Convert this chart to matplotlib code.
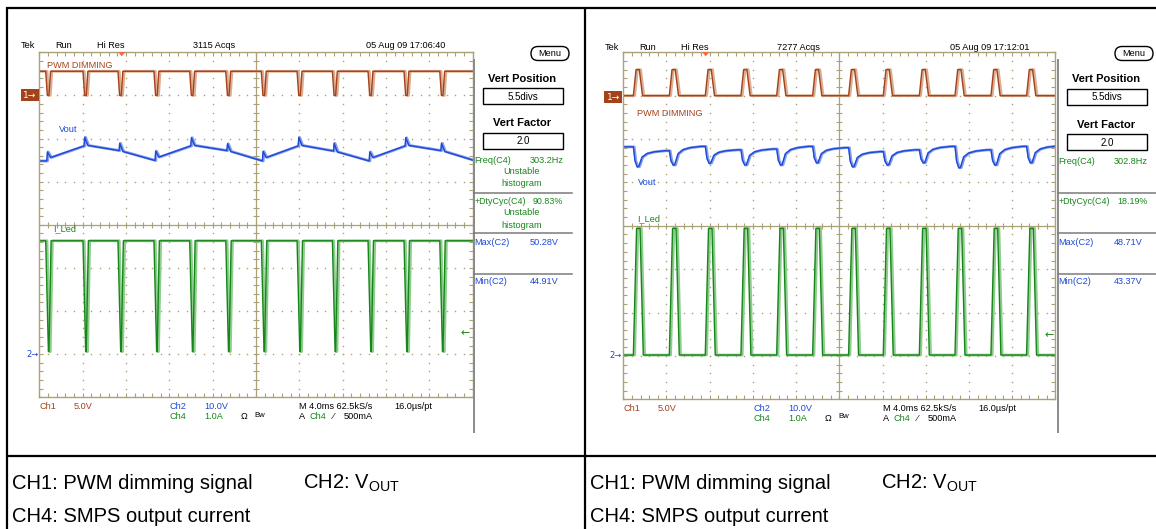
import numpy as np
import matplotlib
matplotlib.use('Agg')
import matplotlib.pyplot as plt
from matplotlib.patches import Rectangle, FancyBboxPatch, Polygon

plt.rcParams['mathtext.fontset'] = 'custom'
plt.rcParams['mathtext.rm'] = 'Liberation Sans'

W, H = 1156, 529
SANS = ['Liberation Sans', 'DejaVu Sans']
GRID = '#aaa276'
BROWN, BROWN_L = '#a3421b', '#dcae92'
BLUE, BLUE_L = '#1d48d8', '#86a0ea'
GREEN, GREEN_L = '#17861a', '#8fcd8f'

# volts (or amps) per division and ground offset in divisions
CH = {'ch1': (5.0, 7.0), 'ch2': (10.0, 1.0), 'ch4': (1.0, 1.0)}

# --- capture 1: 17:06:40, 4 ms/div, time in ms ---
pwm1_fall = [0.59, 4.03, 7.26, 10.58, 13.88, 17.21, 20.49, 23.79, 27.05, 30.34, 33.66, 36.96]
pwm1_high = 2.8
iled1_high, iled1_low = 2.63, 0.06
vout1_start, vout1_end = 44.8, 45.0
vout1_level = [44.8, 48.3, 47.2, 44.9, 48.3, 47.2, 44.8, 48.3, 47.1, 44.8, 48.3, 47.2]
vout1_peak = [46.9, 50.3, 48.9, 47.1, 50.2, 48.8, 47.0, 50.28, 48.9, 46.9, 50.2, 48.9]
vout1_after = [45.6, 48.4, 47.0, 45.7, 48.4, 47.0, 45.6, 48.4, 46.9, 45.6, 48.4, 47.0]

# --- capture 2: 17:12:01 ---
pwm2_rise = [0.93, 4.26, 7.59, 10.89, 14.20, 17.53, 20.86, 24.07, 27.41, 30.71, 34.04, 37.34]
pwm2_high = 3.0
iled2_high, iled2_low = 2.94, 0.02
vout2_start, vout2_end = 48.2, 48.4
vout2_plateau = [48.2, 47.3, 48.3, 47.5, 47.7, 48.3, 48.0, 47.1, 47.5, 48.3, 47.5, 48.3]
vout2_bottom = [43.6, 44.0, 44.4, 44.0, 44.0, 44.5, 43.6, 44.0, 44.5, 43.37, 44.0, 44.5]
# output recovery after each drop: (ms after edge, fraction recovered)
recovery = [(0.8, 0.6), (1.25, 0.82), (1.9, 0.93), (2.9, 1.0)]

readouts = [
    dict(acqs='3115 Acqs', date='05 Aug 09 17:06:40', freq='303.2Hz', duty='90.83%',
         vmax='50.28V', vmin='44.91V', unstable=True),
    dict(acqs='7277 Acqs', date='05 Aug 09 17:12:01', freq='302.8Hz', duty='18.19%',
         vmax='48.71V', vmin='43.37V', unstable=False),
]


def pwm_dips(falls, high, end=40.0):
    t, v = [0.0], [high]
    for f in falls:
        t += [f, f + 0.15, f + 0.30, f + 0.45]
        v += [high, 0.0, 0.0, high]
    t.append(end); v.append(high)
    return t, v


def iled_dips(falls, high, low, end=40.0):
    t, v = [0.0], [high]
    for f in falls:
        t += [f, f + 0.25, f + 0.30, f + 0.50]
        v += [high, low, low, high]
    t.append(end); v.append(high)
    return t, v


def vout_spikes(falls, level, peak, after, start, stop, end=40.0):
    t, v = [0.0], [start]
    for f, lv, pk, af in zip(falls, level, peak, after):
        t += [f + 0.1, f + 0.16, f + 0.45]
        v += [lv, pk, af]
    t.append(end); v.append(stop)
    return t, v


def pwm_pulses(rises, high, end=40.0):
    t, v = [0.0], [0.0]
    for r in rises:
        t += [r, r + 0.25, r + 0.55, r + 0.85]
        v += [0.0, high, high, 0.0]
    t.append(end); v.append(0.0)
    return t, v


def iled_pulses(rises, high, low, end=40.0):
    t, v = [0.0], [low]
    for r in rises:
        t += [r, r + 0.30, r + 0.62, r + 0.92]
        v += [low, high, high, low]
    t.append(end); v.append(low)
    return t, v


def vout_drops(rises, plateau, bottom, start, stop):
    t, v = [0.0], [start]
    nxt = plateau[1:] + [stop]
    for r, p, b, n in zip(rises, plateau, bottom, nxt):
        t += [r, r + 0.15, r + 0.35, r + 0.5]
        v += [p, b + 0.3 * (p - b), b, b + 0.05]
        for dt, frac in recovery:
            t.append(r + dt)
            v.append(b + frac * (n - b))
    return t, v


fig = plt.figure(figsize=(W / 100, H / 100), dpi=100)


def scope_axes(left, top, w, h):
    ax = fig.add_axes([left / W, 1 - (top + h) / H, w / W, h / H])
    ax.set_xlim(0, 40)
    ax.set_ylim(0, 8)
    for s in ax.spines.values():
        s.set_color(GRID)
        s.set_linewidth(1.0)
    ax.set_xticks(np.arange(0, 40.01, 0.8))
    ax.set_yticks(np.arange(0, 8.01, 0.2))
    ax.tick_params(direction='in', length=3.2, width=0.8, color=GRID, top=True, right=True,
                   labelbottom=False, labelleft=False)
    ax.axhline(4, color=GRID, lw=0.9)
    ax.axvline(20, color=GRID, lw=0.9)
    xt = np.arange(0, 40.01, 0.8)
    yt = np.arange(0, 8.01, 0.2)
    ax.plot(xt, np.full_like(xt, 4), ls='none', marker='|', ms=5, mew=0.8, color=GRID)
    ax.plot(np.full_like(yt, 20), yt, ls='none', marker='_', ms=5, mew=0.8, color=GRID)
    for gx in [4, 8, 12, 16, 24, 28, 32, 36]:
        ax.plot(np.full_like(yt[1:-1], gx), yt[1:-1], ls='none', marker='s', ms=1.0, mew=0, color=GRID)
    for gy in [1, 2, 3, 5, 6, 7]:
        ax.plot(xt[1:-1], np.full_like(xt[1:-1], gy), ls='none', marker='s', ms=1.0, mew=0, color=GRID)
    return ax


def trace(ax, t, v, ch, color, light, shift=0.12):
    scale, off = CH[ch]
    y = np.asarray(v) / scale + off
    ax.plot(np.asarray(t) + shift, y, color=light, lw=2.0)
    ax.plot(t, y, color=color, lw=1.0)


ax1 = scope_axes(39.3, 52.3, 433.4, 345.0)
trace(ax1, *pwm_dips(pwm1_fall, pwm1_high), 'ch1', BROWN, BROWN_L)
trace(ax1, *vout_spikes(pwm1_fall, vout1_level, vout1_peak, vout1_after, vout1_start, vout1_end),
      'ch2', BLUE, BLUE_L, shift=0.08)
trace(ax1, *iled_dips(pwm1_fall, iled1_high, iled1_low), 'ch4', GREEN, GREEN_L)

ax2 = scope_axes(623.3, 52.3, 432.0, 347.0)
trace(ax2, *pwm_pulses(pwm2_rise, pwm2_high), 'ch1', BROWN, BROWN_L)
trace(ax2, *vout_drops(pwm2_rise, vout2_plateau, vout2_bottom, vout2_start, vout2_end),
      'ch2', BLUE, BLUE_L, shift=0.08)
trace(ax2, *iled_pulses(pwm2_rise, iled2_high, iled2_low), 'ch4', GREEN, GREEN_L)

# overlay for frame, scope annotations and captions, in pixel units
ov = fig.add_axes([0, 0, 1, 1])
ov.set_xlim(0, W)
ov.set_ylim(H, 0)
ov.axis('off')
ov.patch.set_visible(False)

lk = dict(color='black', lw=1.6, solid_capstyle='butt')
ov.plot([5.5, W], [7.5, 7.5], **lk)
ov.plot([6.5, 6.5], [6.5, H], **lk)
ov.plot([585, 585], [6.5, H], **lk)
ov.plot([5.5, W], [455.5, 455.5], **lk)


def tek(x, y, s, color='black', ha='left', size=6.6, weight='normal'):
    ov.text(x, y, s, color=color, ha=ha, va='center', fontsize=size, family=SANS,
            fontweight=weight)


for dx, dy, ro in [(0, 0, readouts[0]), (584, 1, readouts[1])]:
    # header row
    tek(21 + dx, 46 + dy, 'Tek')
    tek(55 + dx, 46 + dy, 'Run')
    tek(96.7 + dx, 46 + dy, 'Hi Res')
    tek(192.7 + dx, 46 + dy, ro['acqs'])
    tek(366 + dx, 46 + dy, ro['date'])
    ov.add_patch(Polygon([(118 + dx, 52), (125.4 + dx, 52), (121.7 + dx, 56.3)],
                         closed=True, color='#f26d3d', lw=0))
    # grey bar beside the graticule
    ov.plot([474 + dx, 474 + dx], [60, 432], color='#8a8a8a', lw=1.4)

    # footer row
    yb1, yb2 = 406.7 + dy * 1.6, 416.7 + dy * 1.6
    tek(39.3 + dx, yb1, 'Ch1', BROWN)
    tek(74 + dx, yb1, '5.0V', BROWN)
    tek(169.3 + dx, yb1, 'Ch2', BLUE)
    tek(204 + dx, yb1, '10.0V', BLUE)
    tek(169.3 + dx, yb2, 'Ch4', GREEN)
    tek(204 + dx, yb2, '1.0A', GREEN)
    tek(241 + dx, yb2, 'Ω')
    tek(254 + dx, yb2 - 1.5, 'Bw', size=5.6)
    tek(299.3 + dx, yb1, 'M 4.0ms 62.5kS/s')
    tek(394.3 + dx, yb1, '16.0µs/pt')
    tek(299.3 + dx, yb2, 'A')
    tek(309.3 + dx, yb2, 'Ch4', GREEN)
    tek(333 + dx, yb2, '⁄')
    tek(343.3 + dx, yb2, '500mA')

    # side menu
    ov.add_patch(FancyBboxPatch((531 + dx, 46.5), 38, 14, boxstyle='round,pad=0,rounding_size=7',
                                fc='white', ec='black', lw=1.0))
    tek(550 + dx, 53.8, 'Menu', ha='center', size=6.6)
    tek(522 + dx, 78.5 + dy, 'Vert Position', ha='center', size=8, weight='bold')
    ov.add_patch(Rectangle((483.3 + dx, 88.3 + dy), 80, 16, fc='white', ec='black', lw=1.0))
    tek(523.3 + dx, 96.5 + dy, '5.5divs', ha='center', size=7)
    tek(522 + dx, 123.5 + dy, 'Vert Factor', ha='center', size=8, weight='bold')
    ov.add_patch(Rectangle((483.3 + dx, 133.3 + dy), 80, 16, fc='white', ec='black', lw=1.0))
    tek(523.3 + dx, 141.5 + dy, '2.0', ha='center', size=7)

    tek(474.5 + dx, 160.7 + dy, 'Freq(C4)', GREEN)
    tek(563.3 + dx, 160.7 + dy, ro['freq'], GREEN, ha='right')
    tek(474.5 + dx, 201.5, '+DtyCyc(C4)', GREEN, size=6.4)
    tek(563.3 + dx, 201.5, ro['duty'], GREEN, ha='right', size=6.4)
    if ro['unstable']:
        for yy in (171.7, 212.3):
            tek(522 + dx, yy, 'Unstable', GREEN, ha='center')
        for yy in (184, 225):
            tek(522 + dx, yy, 'histogram', GREEN, ha='center')
    for yy in (192.7, 233.3, 274.3):
        ov.plot([474 + dx, 572 + dx], [yy, yy], color='#7a7a7a', lw=1.1)
    tek(474.5 + dx, 242.3, 'Max(C2)', BLUE)
    tek(558.3 + dx, 242.3, ro['vmax'], BLUE, ha='right')
    tek(474.5 + dx, 281.7, 'Min(C2)', BLUE)
    tek(558.3 + dx, 281.7, ro['vmin'], BLUE, ha='right')

    # captions under each capture
    cx = 12 + dx * (578 / 584)
    ov.text(cx, 483.5, 'CH1: PWM dimming signal', fontsize=14.5, family=SANS, va='center')
    ov.text(cx + 291, 483.5, r'CH2: V$_\mathrm{OUT}$', fontsize=14.5, family=SANS, va='center')
    ov.text(cx, 516, 'CH4: SMPS output current', fontsize=14.5, family=SANS, va='center')

# channel labels and ground / trigger markers
tek(46.7, 65, 'PWM DIMMING', BROWN)
tek(59.3, 130, 'Vout', BLUE)
tek(53.3, 229, 'I_Led', GREEN)
tek(636.7, 113.3, 'PWM DIMMING', BROWN)
tek(638, 182.7, 'Vout', BLUE)
tek(637.3, 218.3, 'I_Led', GREEN)

for x0, y0 in [(20.7, 89.3), (604.3, 91.3)]:
    ov.add_patch(Rectangle((x0, y0), 17.8, 11.4, fc=BROWN, ec='none'))
    ov.text(x0 + 9, y0 + 5.9, '1→', color='white', ha='center', va='center', fontsize=6.5,
            family=['DejaVu Sans'])
for x0, y0 in [(26, 354.3), (609, 355.3)]:
    ov.text(x0, y0, '2→', color=BLUE, ha='left', va='center', fontsize=6, family=['DejaVu Sans'])
for x0, y0 in [(465, 333.3), (1049, 335)]:
    ov.text(x0, y0, '←', color=GREEN, ha='center', va='center', fontsize=8, family=['DejaVu Sans'])

fig.savefig('out.png', dpi=100)
